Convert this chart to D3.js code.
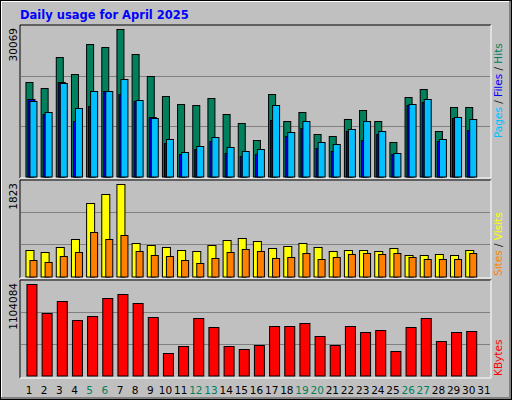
<!DOCTYPE html>
<html>
<head>
<meta charset="utf-8">
<script src="https://cdn.jsdelivr.net/npm/d3@7"></script>
<style>
  body { margin: 0; background: #fff; }
  text { font-family: "DejaVu Sans", sans-serif; }
</style>
</head>
<body>
<div id="chart"></div>
<script>
const days = d3.range(1, 32);
const weekendDays = [5, 6, 12, 13, 19, 20, 26, 27];

const hits = [19252, 18028, 24355, 20885, 27008, 26396, 30069, 24967, 20477, 16395,
  14763, 14558, 15987, 12722, 10885, 7415, 16803, 11293, 13130, 8640,
  8232, 11701, 13538, 11293, 7007, 16191, 17824, 9252, 14150, 14150];
const files = [15375, 13130, 19048, 13946, 17416, 17416, 19865, 15579, 11905, 7619,
  4966, 6191, 8027, 5987, 5170, 5578, 14558, 9048, 11293, 7007,
  6599, 9660, 11293, 9252, 4762, 14763, 15783, 7619, 12109, 11701];
const pages = [15783, 12722, 19252, 11293, 14354, 17416, 16803, 15375, 12109, 6803,
  4558, 5578, 7211, 4762, 4150, 4558, 11497, 8232, 9864, 5783,
  5170, 9252, 7415, 8640, 4558, 14558, 15171, 7211, 11905, 9456];
const visits = [520, 480, 579, 737, 1448, 1626, 1823, 658, 619, 579,
  520, 500, 619, 717, 757, 698, 559, 599, 658, 579,
  500, 520, 520, 500, 559, 421, 421, 441, 421, 520];
const sites = [322, 283, 401, 480, 875, 737, 816, 500, 421, 401,
  322, 263, 362, 480, 540, 500, 362, 382, 461, 342,
  382, 441, 461, 441, 461, 382, 342, 342, 342, 461];
const kbytes = [1104084, 753517, 898579, 668897, 717251, 934844, 983198, 874402, 705166, 269977,
  354596, 693074, 584278, 354596, 318331, 366685, 596366, 596366, 632632, 475481,
  366685, 596366, 523835, 548017, 294154, 584278, 693074, 415039, 523835, 535924];

const W = 512, H = 400;
const svg = d3.select('#chart').append('svg').attr('width', W).attr('height', H);

// frame
svg.append('rect').attr('x', 0).attr('y', 0).attr('width', W).attr('height', H).attr('fill', '#000');
svg.append('rect').attr('x', 1).attr('y', 1).attr('width', W - 2).attr('height', H - 2).attr('fill', '#808080');
svg.append('rect').attr('x', 1).attr('y', 1).attr('width', W - 4).attr('height', H - 4).attr('fill', '#fff');
svg.append('rect').attr('x', 2).attr('y', 2).attr('width', W - 5).attr('height', H - 5).attr('fill', '#c0c0c0');

svg.append('text').attr('x', 20).attr('y', 19)
  .attr('fill', '#0000ff').attr('font-family', '"DejaVu Sans Mono", monospace')
  .attr('font-weight', 'bold').attr('font-size', 11.5)
  .text('Daily usage for April 2025');

const x = d3.scaleBand().domain(days).range([20, 491]).paddingInner(0).paddingOuter(0.03);

function panel(top, bottom, base, maxY, maxVal) {
  svg.append('line').attr('x1', 20).attr('x2', 491).attr('y1', top).attr('y2', top).attr('stroke', '#000');
  svg.append('line').attr('x1', 20).attr('x2', 20).attr('y1', top).attr('y2', bottom).attr('stroke', '#000');
  svg.append('line').attr('x1', 20).attr('x2', 491).attr('y1', bottom).attr('y2', bottom).attr('stroke', '#fff');
  svg.append('line').attr('x1', 491).attr('x2', 491).attr('y1', top).attr('y2', bottom).attr('stroke', '#fff');
  const y = d3.scaleLinear().domain([0, maxVal]).range([base, maxY]);
  const span = base - top;
  [1, 2].forEach(k => {
    const gy = Math.round(base - span * k / 3) + 0.5;
    svg.append('line').attr('x1', 21).attr('x2', 490).attr('y1', gy).attr('y2', gy)
      .attr('stroke', '#808080');
  });
  svg.append('text').attr('transform', `translate(17,${top + 3}) rotate(-90)`)
    .attr('text-anchor', 'end').attr('font-size', 10.5).attr('fill', '#000')
    .text(maxVal);
  return y;
}

function bars(data, y, offset, width, color) {
  svg.append('g').selectAll('rect').data(data).join('rect')
    .attr('x', (d, i) => x(days[i]) + offset + 0.5)
    .attr('y', d => Math.round(y(d)) + 0.5)
    .attr('width', width)
    .attr('height', d => Math.max(0, y.range()[0] - Math.round(y(d))))
    .attr('fill', color).attr('stroke', '#000').attr('stroke-width', 1);
}

function sideLabel(parts, yPos) {
  const t = svg.append('text').attr('transform', `translate(502,${yPos}) rotate(-90)`)
    .attr('font-family', '"DejaVu Sans Mono", monospace').attr('font-size', 10.5);
  parts.forEach(p => t.append('tspan').attr('fill', p[1]).text(p[0]));
}

// top panel: hits / files / pages
const y1 = panel(25, 178, 176.5, 29.3, 30069);
bars(hits, y1, 5, 7, '#00805c');
bars(pages, y1, 7, 7, '#0000ff');
bars(files, y1, 9, 7, '#00c0ff');
sideLabel([['Pages', '#00c0ff'], [' / ', '#000'], ['Files', '#0000ff'], [' / ', '#000'], ['Hits', '#00805c']], 138);

// middle panel: visits / sites
const y2 = panel(180, 278, 276.5, 184.3, 1823);
bars(visits, y2, 5, 8, '#ffff00');
bars(sites, y2, 9, 7, '#ff8000');
sideLabel([['Sites', '#ff8000'], [' / ', '#000'], ['Visits', '#ffff00']], 276);

// bottom panel: kbytes
const y3 = panel(280, 378, 375.5, 284.3, 1104084);
bars(kbytes, y3, 6, 10, '#ff0000');
sideLabel([['KBytes', '#ff0000']], 376);

// day labels
svg.append('g').selectAll('text').data(days).join('text')
  .attr('x', d => x(d) + x.bandwidth() / 2 + 1)
  .attr('y', 394)
  .attr('text-anchor', 'middle').attr('font-size', 10.5)
  .attr('fill', d => weekendDays.includes(d) ? '#00805c' : '#000')
  .text(d => d);
</script>
</body>
</html>
